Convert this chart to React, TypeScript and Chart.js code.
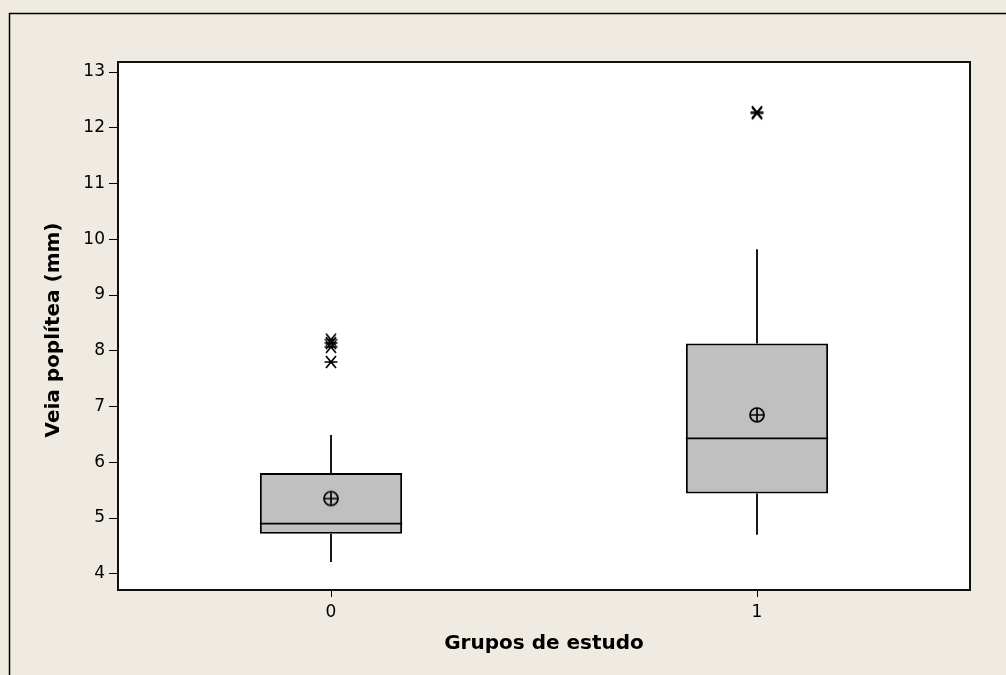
import React, { useEffect, useRef } from "react";
import { Chart, registerables } from "chart.js";

Chart.register(...registerables);

const categories = ["0", "1"];
const whiskerLow = [4.21, 4.7];
const q1 = [4.72, 5.44];
const median = [4.9, 6.43];
const q3 = [5.81, 8.13];
const whiskerHigh = [6.49, 9.82];
const means = [5.35, 6.85];
const outliers0 = [8.2, 8.14, 8.07, 7.8];
const outliers1 = [12.28, 12.26];
const yTicks = [4, 5, 6, 7, 8, 9, 10, 11, 12, 13];
const yTitle = "Veia poplítea (mm)";
const xTitle = "Grupos de estudo";

const FONT = "'DejaVu Sans', sans-serif";

function makeAsterisk(): HTMLCanvasElement {
  const c = document.createElement("canvas");
  c.width = 16;
  c.height = 16;
  const g = c.getContext("2d")!;
  g.strokeStyle = "#000";
  g.lineWidth = 1.7;
  g.beginPath();
  g.moveTo(1.5, 8);
  g.lineTo(14.5, 8);
  g.moveTo(3, 2);
  g.lineTo(13, 14);
  g.moveTo(13, 2);
  g.lineTo(3, 14);
  g.stroke();
  return c;
}

function makeMeanSymbol(): HTMLCanvasElement {
  const c = document.createElement("canvas");
  c.width = 18;
  c.height = 18;
  const g = c.getContext("2d")!;
  g.strokeStyle = "#000";
  g.lineWidth = 1.7;
  g.beginPath();
  g.arc(9, 9, 7, 0, Math.PI * 2);
  g.moveTo(2, 9);
  g.lineTo(16, 9);
  g.moveTo(9, 2);
  g.lineTo(9, 16);
  g.stroke();
  return c;
}

const framePlugin = {
  id: "framePlugin",
  beforeDraw(chart: any) {
    const { ctx, width, height } = chart;
    ctx.save();
    ctx.fillStyle = "#EFEBE2";
    ctx.fillRect(0, 0, width, height);
    ctx.strokeStyle = "#000";
    ctx.lineWidth = 1.5;
    ctx.beginPath();
    ctx.moveTo(9.5, height);
    ctx.lineTo(9.5, 13.5);
    ctx.lineTo(width, 13.5);
    ctx.stroke();
    const a = chart.chartArea;
    ctx.fillStyle = "#FFFFFF";
    ctx.fillRect(a.left, a.top, a.right - a.left, a.bottom - a.top);
    ctx.restore();
  },
  afterDatasetsDraw(chart: any) {
    const { ctx } = chart;
    const xs = chart.scales.x;
    const ys = chart.scales.y;
    const bars = chart.getDatasetMeta(0).data;
    ctx.save();
    ctx.strokeStyle = "#000";
    ctx.lineWidth = 1.8;
    categories.forEach((_, i) => {
      const cx = Math.round(xs.getPixelForValue(i));
      const bar = bars[i] as any;
      const half = bar.width / 2;
      ctx.beginPath();
      ctx.moveTo(cx, ys.getPixelForValue(q3[i]));
      ctx.lineTo(cx, ys.getPixelForValue(whiskerHigh[i]));
      ctx.moveTo(cx, ys.getPixelForValue(q1[i]));
      ctx.lineTo(cx, ys.getPixelForValue(whiskerLow[i]));
      const my = ys.getPixelForValue(median[i]);
      ctx.moveTo(bar.x - half, my);
      ctx.lineTo(bar.x + half, my);
      ctx.stroke();
    });
    const a = chart.chartArea;
    ctx.lineWidth = 2;
    ctx.strokeStyle = "#111";
    ctx.strokeRect(a.left, a.top, a.right - a.left, a.bottom - a.top);
    ctx.restore();
  },
  afterDraw(chart: any) {
    const { ctx } = chart;
    const a = chart.chartArea;
    ctx.save();
    ctx.fillStyle = "#000";
    ctx.font = `bold 20px ${FONT}`;
    ctx.textAlign = "center";
    ctx.textBaseline = "middle";
    ctx.fillText(xTitle, (a.left + a.right) / 2, 644);
    ctx.translate(54, (a.top + a.bottom) / 2 + 4);
    ctx.rotate(-Math.PI / 2);
    ctx.fillText(yTitle, 0, 0);
    ctx.restore();
  },
};

export default function App() {
  const ref = useRef<HTMLCanvasElement>(null);
  useEffect(() => {
    document.body.style.margin = "0";
    const asterisk = makeAsterisk();
    const meanSym = makeMeanSymbol();
    const outlierData = [
      ...outliers0.map((v) => ({ x: categories[0], y: v })),
      ...outliers1.map((v) => ({ x: categories[1], y: v })),
    ];
    const chart = new Chart(ref.current!, {
      type: "bar",
      data: {
        labels: categories,
        datasets: [
          {
            type: "bar",
            data: categories.map((_, i) => [q1[i], q3[i]]) as any,
            backgroundColor: "#C0C0C0",
            borderColor: "#000",
            borderWidth: 2,
            borderSkipped: false,
            barPercentage: 0.334,
            categoryPercentage: 1,
            order: 3,
          } as any,
          {
            type: "line",
            data: means,
            showLine: false,
            pointStyle: meanSym as any,
            pointRadius: 8,
            order: 1,
          } as any,
          {
            type: "line",
            data: outlierData as any,
            showLine: false,
            pointStyle: asterisk as any,
            pointRadius: 7,
            order: 1,
          } as any,
        ],
      },
      options: {
        responsive: false,
        animation: false,
        layout: { padding: { left: 0, top: 62, right: 36, bottom: 0 } },
        plugins: {
          legend: { display: false },
          tooltip: { enabled: false },
        },
        scales: {
          x: {
            type: "category",
            offset: true,
            grid: {
              offset: false,
              drawOnChartArea: false,
              tickLength: 7,
              color: "#000",
              lineWidth: 1,
            },
            border: { display: false },
            ticks: {
              color: "#000",
              font: { family: FONT, size: 17 },
              padding: 5,
            },
            afterFit: (s: any) => {
              s.height = 85;
            },
          },
          y: {
            type: "linear",
            min: 3.71,
            max: 13.18,
            grid: {
              drawOnChartArea: false,
              tickLength: 9,
              color: "#000",
              lineWidth: 1,
            },
            border: { display: false },
            ticks: {
              color: "#000",
              font: { family: FONT, size: 17 },
              padding: 4,
            },
            afterBuildTicks: (s: any) => {
              s.ticks = yTicks.map((v) => ({ value: v }));
            },
            afterFit: (s: any) => {
              s.width = 118;
            },
          },
        },
      },
      plugins: [framePlugin],
    });
    return () => chart.destroy();
  }, []);
  return <canvas ref={ref} width={1006} height={675} style={{ display: "block" }} />;
}
